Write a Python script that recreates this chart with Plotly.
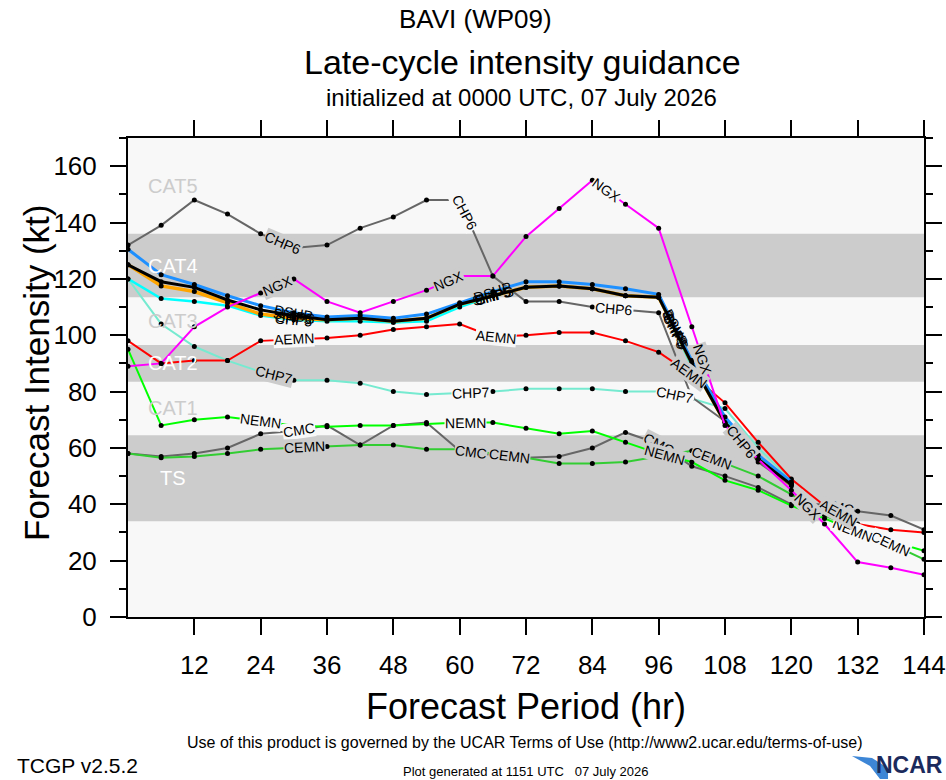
import numpy as np
import plotly.graph_objects as go

# ---- data ----------------------------------------------------------------------
HOURS = list(range(0, 145, 6))      # 0..144
HOURS_120 = list(range(0, 121, 6))  # 0..120 (late-cycle runs that stop at 120 h)

chp6 = [132, 139, 148, 143, 136, 131, 132, 138, 142, 148, 148, 121, 112, 112, 110, 109, 108, 78, 69.5, 55, 46.5]
ngx = [89, 90, 103, 110, 115, 120, 112, 108, 112, 116, 121, 121, 135, 145, 155, 146.5, 138, 103, 68, 56, 45, 33, 19.5, 17.5, 15]
aemn = [98, 90, 91, 91, 98, 98.5, 99, 100, 102, 103, 104, 99.5, 100, 101, 101, 98, 94, 86, 76, 62, 49, 39.5, 33, 31, 30]
chp7 = [120, 104, 96, 91, 87, 84, 84, 83, 80, 79, 79.5, 80, 81, 81, 81, 80, 80, 77.5, 74, 60, 48.5]
nemn = [95, 68, 70, 71, 69.5, 68, 67.5, 68, 68, 68.5, 69, 69, 67, 65, 66, 62, 58, 55, 48.5, 45, 39.5, 35, 30, 27, 23.5]
cmc = [58, 57, 58, 60, 65, 66, 68, 61, 68, 69, 59, 57.5, 56.5, 57, 60, 65.5, 61.5, 53.5, 50, 46, 40, 40, 37.5, 36, 31]
cemn = [58, 56.5, 57, 58, 59.5, 60, 60.5, 61, 61, 59.5, 59.5, 58, 56.5, 54.5, 54.5, 55, 57, 59, 54.5, 50, 43.5, 36, 31.5, 26, 20.5]
chp5 = [120, 113, 112, 110.5, 107, 105.5, 105, 105, 104.5, 105, 110, 114, 117, 117.5, 116.5, 114, 113.5, 89, 70, 56.5, 47.5]
shf5 = [125, 117.5, 115.5, 111.5, 107.5, 106, 105.5, 106, 105, 106, 111, 114, 117, 117.5, 116.5, 114, 113.5, 90, 69, 56, 47]
dshp = [130.5, 121.5, 118, 114, 110.5, 108, 106.5, 107, 106, 107.5, 111.5, 115.5, 119, 119, 118, 116.5, 114.5, 91, 71, 57.5, 48]
ships = [125, 119, 117, 112.5, 109, 107, 105.5, 106, 105, 106, 111, 114, 117, 117.5, 116.5, 114, 113.5, 90, 69, 56, 47]

# where each model's in-line label sits (forecast hour)
LBL_CHP6 = [28, 61, 88, 111]
LBL_NGX = [27, 58, 86.5, 104, 123]
LBL_AEMN = [30, 66.5, 101.5, 128.5]
LBL_CHP7 = [26.5, 62, 99]
LBL_NEMN = [24, 61, 97, 131]
LBL_CMC = [31, 62, 96, 128.5]
LBL_CEMN = [32, 69, 105.5, 138]
LBL_CLUSTER = [30, 66, 99]

# intensity bands (kt)
BAND_NAMES = ["TS", "CAT1", "CAT2", "CAT3", "CAT4", "CAT5"]
BAND_LO = [34, 64.5, 83.5, 96.5, 113.5, 136]
BAND_HI = [64.5, 83.5, 96.5, 113.5, 136, 170]
BAND_GREY = [True, False, True, False, True, False]

X_TICKS = list(range(12, 145, 12))
Y_TICKS = list(range(0, 161, 20))

# ---- layout geometry (page pixels) ----------------------------------------------
W, H = 946, 780
ML, MR, MT, MB = 128, 22, 138, 163
PW, PH = W - ML - MR, H - MT - MB
XR, YR = (0, 144), (0, 170)
KX, KY = PW / (XR[1] - XR[0]), PH / (YR[1] - YR[0])
GREY, LIGHT = "#cccccc", "#f8f8f8"
FONT = "Liberation Sans, Arial, sans-serif"

def pxx(px): return (px - ML) / PW
def pxy(py): return (H - MB - py) / PH

def band_bg(v):
    for lo, hi, g in zip(BAND_LO, BAND_HI, BAND_GREY):
        if lo <= v < hi:
            return GREY if g else LIGHT
    return LIGHT

models = [
    # name, hours, values, colour, width, label hours, label background
    ("CMC", HOURS, cmc, "#666666", 2, LBL_CMC, True),
    ("CEMN", HOURS, cemn, "#32cd32", 2, LBL_CEMN, True),
    ("NEMN", HOURS, nemn, "#00ff00", 2, LBL_NEMN, True),
    ("CHP7", HOURS_120, chp7, "#76ead0", 2, LBL_CHP7, True),
    ("AEMN", HOURS, aemn, "#ff0000", 2, LBL_AEMN, True),
    ("CHP6", HOURS_120, chp6, "#666666", 2, LBL_CHP6, True),
    ("CHP5", HOURS_120, chp5, "#00ffff", 2.5, LBL_CLUSTER, False),
    ("SHF5", HOURS_120, shf5, "#ffa500", 3.5, LBL_CLUSTER, False),
    ("DSHP", HOURS_120, dshp, "#1e90ff", 3, LBL_CLUSTER, False),
    ("SHIPS", HOURS_120, ships, "#000000", 3, LBL_CLUSTER, False),
    ("NGX", HOURS, ngx, "#ff00ff", 2, LBL_NGX, True),
]

fig = go.Figure()
ann = []
for name, hs, vs, col, lw, lbl, use_bg in models:
    fig.add_trace(go.Scatter(x=hs, y=vs, mode="lines+markers", name=name,
                             line=dict(color=col, width=lw),
                             marker=dict(color="black", size=5), hoverinfo="x+y+name"))
    for h in lbl:
        yv = float(np.interp(h, hs, vs))
        a, b = np.interp(h - 1.5, hs, vs), np.interp(h + 1.5, hs, vs)
        ang = -np.degrees(np.arctan((b - a) * KY / (3 * KX)))
        ann.append(dict(x=h, y=yv, xref="x", yref="y", text=name, showarrow=False,
                        textangle=ang, font=dict(family=FONT, size=14, color="black"),
                        bgcolor=band_bg(yv) if use_bg else None, borderpad=0))

shapes = []
for lo, hi, g, nm in zip(BAND_LO, BAND_HI, BAND_GREY, BAND_NAMES):
    if g:
        shapes.append(dict(type="rect", xref="x", yref="y", x0=XR[0], x1=XR[1], y0=lo, y1=hi,
                           fillcolor=GREY, line=dict(width=0), layer="below"))
    ann.append(dict(x=8.1, y=(lo + hi) / 2, xref="x", yref="y", text=nm, showarrow=False,
                    font=dict(family=FONT, size=20, color="white" if g else "#cccccc")))

def txt(text, px, py, size, xanchor="center", color="black", angle=0):
    ann.append(dict(x=pxx(px), y=pxy(py), xref="paper", yref="paper", text=text, showarrow=False,
                    xanchor=xanchor, yanchor="middle", textangle=angle,
                    font=dict(family=FONT, size=size, color=color)))

txt("BAVI (WP09)", 475, 19, 26)
txt("Late-cycle intensity guidance", 522, 62, 34)
txt("initialized at 0000 UTC, 07 July 2026", 521, 97, 24)
txt("Forecast Intensity (kt)", 36, 373, 35, angle=-90)
txt("Forecast Period (hr)", 526, 706, 36)
txt("Use of this product is governed by the UCAR Terms of Use (http://www2.ucar.edu/terms-of-use)", 525, 742, 16)
txt("TCGP v2.5.2", 15, 765, 21, xanchor="left")
txt("Plot generated at 1151 UTC   07 July 2026", 525, 771, 13)
txt("<b>NCAR</b>", 945, 765, 23, xanchor="right", color="#1b2a5c")

# NCAR swoosh
pts = [(852, 756), (872, 758), (888, 768), (888, 779), (880, 779), (870, 766)]
path = "M " + " L ".join(f"{pxx(a):.4f},{pxy(b):.4f}" for a, b in pts) + " Z"
shapes.append(dict(type="path", xref="paper", yref="paper", path=path,
                   fillcolor="#3d86d6", line=dict(width=0), layer="above"))

fig.update_layout(
    width=W, height=H, margin=dict(l=ML, r=MR, t=MT, b=MB),
    paper_bgcolor="white", plot_bgcolor=LIGHT, showlegend=False,
    shapes=shapes, annotations=ann, font=dict(family=FONT, color="black"),
)
fig.update_xaxes(range=list(XR), tickvals=X_TICKS, ticks="outside", ticklen=16, tickwidth=1.5,
                 tickcolor="black", showline=True, linewidth=2, linecolor="black", mirror="ticks",
                 showgrid=False, zeroline=False, tickfont=dict(family=FONT, size=26),
                 ticklabelstandoff=8, automargin=False)
fig.update_yaxes(range=list(YR), tickvals=Y_TICKS, ticks="outside", ticklen=16, tickwidth=1.5,
                 tickcolor="black", showline=True, linewidth=2, linecolor="black", mirror="ticks",
                 showgrid=False, zeroline=False, tickfont=dict(family=FONT, size=26),
                 minor=dict(dtick=10, ticks="outside", ticklen=7, tickwidth=1.5, tickcolor="black"),
                 ticklabelstandoff=8, automargin=False)

# page body margin off, so the 946x780 figure fills the window exactly
fig.write_html("out.html", config={"displayModeBar": False},
               post_script="document.body.style.margin='0';")
